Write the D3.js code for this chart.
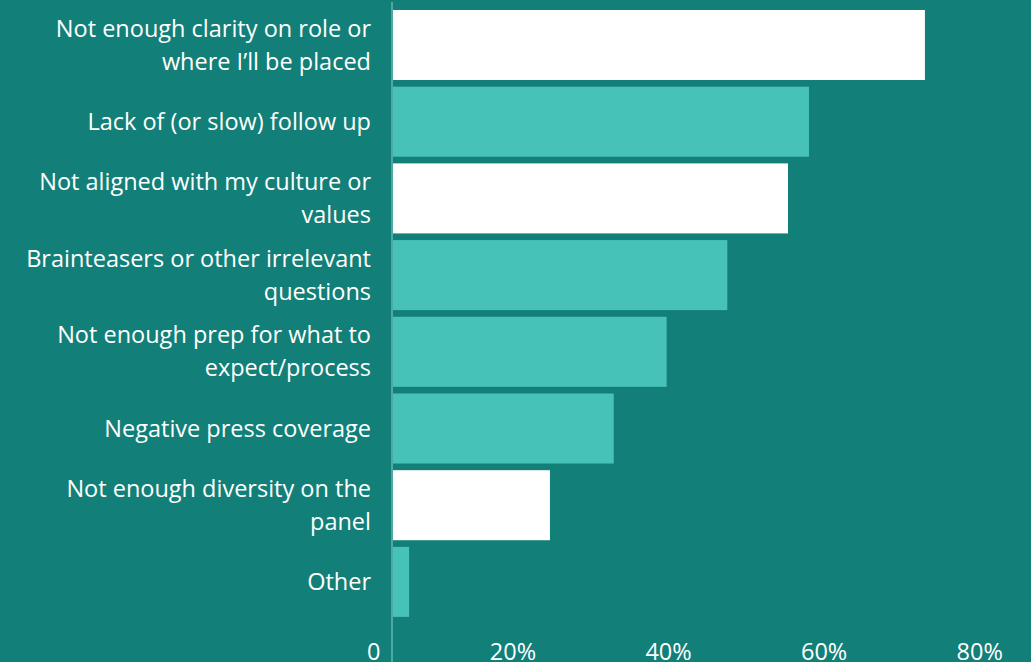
<!DOCTYPE html>
<html>
<head>
<meta charset="utf-8">
<script src="https://cdn.jsdelivr.net/npm/d3@7/dist/d3.min.js"></script>
<style>
  html, body { margin: 0; padding: 0; background: #127f78; }
  svg { display: block; }
  text { font-family: "Open Sans", sans-serif; fill: #ffffff; }
</style>
</head>
<body>
<svg id="chart" width="1031" height="662"></svg>
<script>
const categories = [
  ["Not enough clarity on role or", "where I\u2019ll be placed"],
  ["Lack of (or slow) follow up"],
  ["Not aligned with my culture or", "values"],
  ["Brainteasers or other irrelevant", "questions"],
  ["Not enough prep for what to", "expect/process"],
  ["Negative press coverage"],
  ["Not enough diversity on the", "panel"],
  ["Other"]
];
const values = [68.5, 53.6, 50.9, 43.1, 35.3, 28.5, 20.3, 2.2];
const highlighted = [true, false, true, false, false, false, true, false];
const tickValues = [0, 20, 40, 60, 80];
const tickLabels = ["0", "20%", "40%", "60%", "80%"];

const W = 1031, H = 662;
const bg = "#127f78", light = "#47c2b8", white = "#ffffff";
const svg = d3.select("#chart");
svg.append("rect").attr("width", W).attr("height", H).attr("fill", bg);

const x = d3.scaleLinear().domain([0, 80]).range([392, 1014.4]);
const y = d3.scaleBand().domain(d3.range(categories.length))
  .range([6.65, 620.25]).paddingInner(0.087).paddingOuter(0.0435);

svg.append("g").selectAll("rect").data(values).join("rect")
  .attr("x", x(0))
  .attr("y", (d, i) => y(i))
  .attr("width", d => x(d) - x(0))
  .attr("height", y.bandwidth())
  .attr("fill", (d, i) => highlighted[i] ? white : light);

// axis line
svg.append("line")
  .attr("x1", x(0)).attr("x2", x(0))
  .attr("y1", 2).attr("y2", H)
  .attr("stroke", "#4fa8a1").attr("stroke-width", 2);

// category labels
const lineH = 33;
const lab = svg.append("g").selectAll("text").data(categories).join("text")
  .attr("text-anchor", "end")
  .attr("font-size", 23.5)
  .attr("y", (d, i) => y(i) + y.bandwidth() / 2);
lab.each(function(lines) {
  const t = d3.select(this);
  const n = lines.length;
  lines.forEach((ln, k) => {
    t.append("tspan")
      .attr("x", 371)
      .attr("dy", k === 0 ? ((-(n - 1) / 2) * lineH) + 8 : lineH)
      .text(ln);
  });
});

// x tick labels
svg.append("g").selectAll("text").data(tickValues).join("text")
  .attr("text-anchor", "end")
  .attr("font-size", 23.5)
  .attr("x", d => x(d) - 11.5)
  .attr("y", 660)
  .text((d, i) => tickLabels[i]);
</script>
</body>
</html>
